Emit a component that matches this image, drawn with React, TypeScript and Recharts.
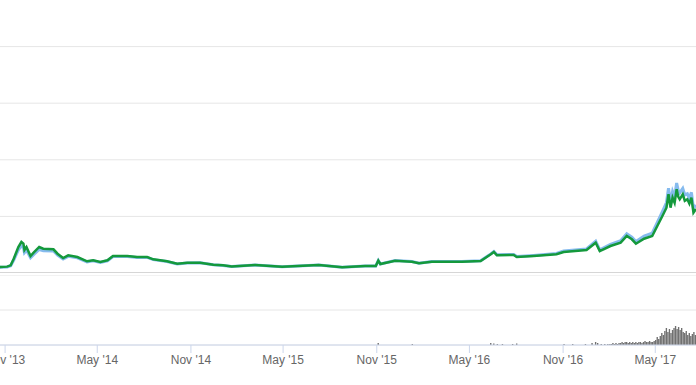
import { LineChart, Line, ComposedChart, Bar, XAxis, YAxis, CartesianGrid, ReferenceLine } from "recharts";

const MONTHS = ["Jan", "Feb", "Mar", "Apr", "May", "Jun", "Jul", "Aug", "Sep", "Oct", "Nov", "Dec"];

const priceDates = [
  "2013-10-10", "2013-10-23", "2013-11-05", "2013-11-12", "2013-11-18", "2013-11-27", "2013-12-03", "2013-12-07", "2013-12-09",
  "2013-12-13", "2013-12-21", "2013-12-27", "2014-01-07", "2014-01-15", "2014-02-04", "2014-02-12",
  "2014-02-23", "2014-03-05", "2014-03-23", "2014-04-11", "2014-04-23", "2014-05-07", "2014-05-21",
  "2014-06-01", "2014-06-29", "2014-07-18", "2014-08-07", "2014-08-19", "2014-09-15", "2014-10-05",
  "2014-10-25", "2014-11-19", "2014-12-15", "2015-01-03", "2015-01-20", "2015-03-07", "2015-04-29",
  "2015-07-10", "2015-08-25", "2015-10-09", "2015-10-30", "2015-11-04", "2015-11-08", "2015-12-07",
  "2016-01-09", "2016-01-23", "2016-02-17", "2016-04-16", "2016-05-23", "2016-06-12", "2016-06-18",
  "2016-06-24", "2016-07-27", "2016-08-02", "2016-09-04", "2016-10-19", "2016-11-02", "2016-12-17",
  "2017-01-04", "2017-01-12", "2017-02-02", "2017-02-22", "2017-03-06", "2017-03-16", "2017-03-24",
  "2017-04-09", "2017-04-25", "2017-05-05", "2017-05-15", "2017-05-23", "2017-05-27", "2017-05-31",
  "2017-06-04", "2017-06-08", "2017-06-12", "2017-06-15", "2017-06-18", "2017-06-24", "2017-06-28",
  "2017-07-03", "2017-07-07", "2017-07-11", "2017-07-15", "2017-07-20",
];

const greenPrice = [
  195, 212, 225, 272, 505, 919, 1096, 1035, 813,
  919, 601, 717, 919, 859, 838, 682,
  530, 626, 565, 413, 449, 389, 449,
  601, 601, 565, 565, 484, 413, 329,
  364, 364, 293, 272, 230, 283, 223,
  283, 201, 247, 247, 435, 318, 435,
  399, 343, 399, 399, 424, 661, 742,
  626, 636, 565, 601, 661, 742, 813,
  1071, 777, 954, 1071, 1308, 1191, 1035,
  1212, 1308, 1661, 2014, 2308, 2781, 2308,
  2661, 2480, 2958, 2700, 2605, 2781, 2550,
  2605, 2450, 2661, 2131, 2262,
];

const bluePrice = [
  185, 200, 212, 255, 460, 820, 950, 900, 720,
  810, 540, 650, 830, 790, 780, 635,
  495, 590, 535, 392, 428, 372, 432,
  580, 583, 550, 551, 472, 404, 322,
  357, 358, 288, 268, 227, 280, 221,
  281, 200, 246, 247, 440, 320, 440,
  404, 347, 404, 405, 432, 675, 760,
  642, 655, 582, 622, 688, 775, 850,
  1125, 820, 1010, 1140, 1390, 1270, 1110,
  1300, 1410, 1790, 2170, 2490, 3000, 2500,
  2880, 2690, 3180, 2920, 2830, 2990, 2760,
  2800, 2640, 2850, 2280, 2400,
];

const volumeDates = [
  "2015-11-04", "2016-01-10", "2016-06-12", "2016-06-18", "2016-06-25", "2016-07-05", "2016-07-25",
  "2016-08-02", "2016-11-03", "2016-11-20", "2016-12-15", "2016-12-28", "2017-01-04", "2017-01-08",
  "2017-01-15", "2017-01-22", "2017-01-28",
  "2017-02-01", "2017-02-04", "2017-02-07", "2017-02-10", "2017-02-13", "2017-02-16", "2017-02-19",
  "2017-02-22", "2017-02-25", "2017-02-28", "2017-03-03", "2017-03-06", "2017-03-09", "2017-03-12",
  "2017-03-15", "2017-03-18", "2017-03-21", "2017-03-24", "2017-03-27", "2017-03-30", "2017-04-02",
  "2017-04-05", "2017-04-08", "2017-04-11", "2017-04-14", "2017-04-17", "2017-04-20", "2017-04-23",
  "2017-04-26", "2017-04-29", "2017-05-02", "2017-05-05", "2017-05-08", "2017-05-11", "2017-05-14",
  "2017-05-17", "2017-05-20", "2017-05-23", "2017-05-26", "2017-05-29", "2017-06-01", "2017-06-04",
  "2017-06-07", "2017-06-10", "2017-06-13", "2017-06-16", "2017-06-19", "2017-06-22", "2017-06-25",
  "2017-06-28", "2017-07-01", "2017-07-04", "2017-07-07", "2017-07-10", "2017-07-13", "2017-07-16",
  "2017-07-19",
];

const volume = [
  4, 2, 4, 3, 2, 2, 2,
  3, 2, 2, 2, 4, 6, 4,
  2, 2, 2,
  2, 2, 4, 2, 4, 2, 4,
  4, 6, 4, 6, 6, 4, 6,
  4, 6, 4, 6, 4, 6, 6,
  4, 6, 8, 6, 6, 8, 6,
  6, 8, 10, 16, 12, 18, 24,
  20, 28, 34, 26, 32, 24, 30,
  34, 38, 32, 36, 30, 34, 26,
  24, 28, 20, 24, 18, 22, 26,
  20,
];

const tickDates = ["2013-11-01", "2014-05-01", "2014-11-01", "2015-05-01", "2015-11-01", "2016-05-01", "2016-11-01", "2017-05-01"];

const toTs = (d: string) => Date.parse(d + "T00:00:00Z");

const X_DOMAIN = [toTs("2013-10-22"), toTs("2017-07-20")];
const X_TICKS = tickDates.map(toTs);

const priceData = priceDates.map((d, i) => ({ t: toTs(d), green: greenPrice[i], blue: bluePrice[i] }));
const volumeData = volumeDates.map((d, i) => ({ t: toTs(d), v: volume[i] }));

const fmtTick = (t: number) => {
  const d = new Date(t);
  return `${MONTHS[d.getUTCMonth()]} '${String(d.getUTCFullYear()).slice(2)}`;
};

const W = 696;

export default function App() {
  return (
    <div
      style={{
        position: "absolute",
        left: 0,
        top: 0,
        width: W,
        height: 385,
        overflow: "hidden",
        background: "#fff",
        fontFamily: "'Liberation Sans', Arial, sans-serif",
      }}
    >
      <div style={{ position: "absolute", left: 0, top: -10 }}>
        <LineChart width={W} height={283} data={priceData} margin={{ top: 0, right: 0, bottom: 0, left: 0 }}>
          <CartesianGrid horizontal vertical={false} stroke="#e6e6e6" />
          <XAxis dataKey="t" type="number" domain={X_DOMAIN} allowDataOverflow hide />
          <YAxis domain={[0, 10000]} ticks={[0, 2000, 4000, 6000, 8000, 10000]} hide />
          <ReferenceLine y={0} stroke="#d6d6d6" strokeWidth={2} />
          <Line
            dataKey="blue"
            stroke="#86bbee"
            strokeWidth={3}
            dot={false}
            activeDot={false}
            legendType="none"
            isAnimationActive={false}
          />
          <Line
            dataKey="green"
            stroke="#14993c"
            strokeWidth={2.5}
            dot={false}
            activeDot={false}
            legendType="none"
            isAnimationActive={false}
          />
        </LineChart>
      </div>
      <div style={{ position: "absolute", left: 0, top: 275 }}>
        <ComposedChart width={W} height={110} data={volumeData} margin={{ top: 0, right: 0, bottom: 0, left: 0 }}>
          <CartesianGrid horizontal vertical={false} stroke="#e6e6e6" />
          <XAxis
            dataKey="t"
            type="number"
            domain={X_DOMAIN}
            allowDataOverflow
            ticks={X_TICKS}
            tickFormatter={fmtTick}
            height={40}
            stroke="#ccd6eb"
            tickSize={8}
            tick={{ fill: "#666", fontSize: 12 }}
            interval={0}
          />
          <YAxis domain={[0, 140]} ticks={[0, 70, 140]} hide />
          <Bar dataKey="v" fill="#707070" barSize={2} isAnimationActive={false} />
        </ComposedChart>
      </div>
    </div>
  );
}
